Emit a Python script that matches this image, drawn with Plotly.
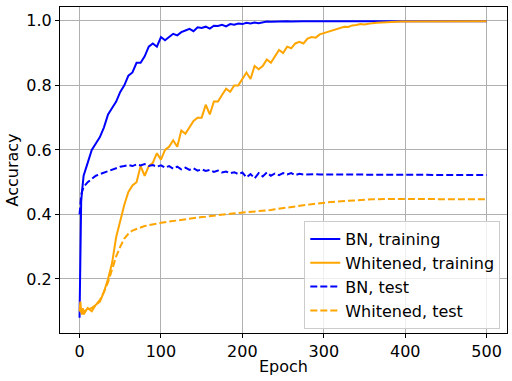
import plotly.graph_objects as go

epochs = [0, 1, 2, 3, 4] + list(range(5, 501, 5))

bn_train = [
    0.08, 0.38, 0.44, 0.47, 0.50,
    0.52, 0.56, 0.60, 0.62, 0.64, 0.67, 0.71, 0.73, 0.75, 0.78,
    0.80, 0.83, 0.84, 0.87, 0.87, 0.89, 0.92, 0.93, 0.92, 0.95,
    0.94, 0.95, 0.96, 0.955, 0.965, 0.97, 0.975, 0.968, 0.98, 0.978,
    0.982, 0.976, 0.985, 0.984, 0.988, 0.983, 0.99, 0.988, 0.992, 0.99,
    0.994, 0.992, 0.995, 0.993, 0.996, 0.998, 0.997, 0.998, 0.997, 0.998,
    0.999, 0.998, 0.999, 0.998, 0.999, 0.999, 0.998, 0.999, 0.999, 0.998,
    0.999, 0.999, 0.998, 0.999, 0.999, 0.999, 0.998, 0.999, 0.999, 0.999,
    0.999, 0.999, 0.999, 0.998, 0.999, 0.999, 0.999, 0.999, 0.999, 0.999,
    0.999, 0.999, 0.999, 0.999, 0.999, 0.999, 0.999, 0.999, 0.999, 0.999,
    0.999, 0.999, 0.999, 0.999, 0.999, 0.999, 0.999, 0.999, 0.999, 0.999,
]

wh_train = [
    0.10, 0.13, 0.10, 0.09, 0.11,
    0.09, 0.11, 0.10, 0.12, 0.13, 0.16, 0.20, 0.25, 0.33, 0.38,
    0.43, 0.47, 0.49, 0.50, 0.55, 0.52, 0.55, 0.56, 0.59, 0.57,
    0.60, 0.61, 0.63, 0.61, 0.66, 0.65, 0.67, 0.69, 0.70, 0.70,
    0.74, 0.71, 0.75, 0.75, 0.77, 0.79, 0.78, 0.80, 0.80, 0.82,
    0.84, 0.82, 0.86, 0.85, 0.86, 0.88, 0.87, 0.89, 0.91, 0.90,
    0.92, 0.915, 0.93, 0.935, 0.93, 0.945, 0.95, 0.948, 0.958, 0.962,
    0.966, 0.968, 0.974, 0.976, 0.982, 0.981, 0.986, 0.987, 0.99, 0.989,
    0.992, 0.993, 0.994, 0.995, 0.996, 0.996, 0.997, 0.997, 0.998, 0.998,
    0.998, 0.999, 0.998, 0.999, 0.998, 0.999, 0.999, 0.998, 0.999, 0.999,
    0.999, 0.998, 0.999, 0.999, 0.999, 0.999, 0.998, 0.999, 0.999, 0.999,
]

bn_test = [
    0.40, 0.44, 0.46, 0.47, 0.48,
    0.485, 0.50, 0.51, 0.52, 0.525, 0.53, 0.535, 0.54, 0.545, 0.548,
    0.55, 0.553, 0.55, 0.555, 0.552, 0.556, 0.55, 0.553, 0.548, 0.552,
    0.545, 0.55, 0.542, 0.548, 0.54, 0.545, 0.538, 0.543, 0.536, 0.54,
    0.535, 0.538, 0.532, 0.536, 0.53, 0.533, 0.528, 0.531, 0.525, 0.53,
    0.515, 0.525, 0.512, 0.528, 0.518, 0.53, 0.52, 0.527, 0.522, 0.528,
    0.524, 0.528, 0.522, 0.526, 0.524, 0.525, 0.524, 0.525, 0.524, 0.524,
    0.524, 0.524, 0.523, 0.524, 0.523, 0.523, 0.523, 0.523, 0.523, 0.523,
    0.523, 0.523, 0.522, 0.523, 0.522, 0.522, 0.522, 0.522, 0.522, 0.522,
    0.522, 0.522, 0.522, 0.522, 0.522, 0.522, 0.522, 0.522, 0.522, 0.522,
    0.522, 0.522, 0.522, 0.522, 0.522, 0.522, 0.522, 0.522, 0.522, 0.522,
]

wh_test = [
    0.10, 0.10, 0.10, 0.10, 0.10,
    0.10, 0.105, 0.11, 0.12, 0.135, 0.16, 0.19, 0.23, 0.27, 0.30,
    0.325, 0.34, 0.35, 0.355, 0.36, 0.364, 0.367, 0.37, 0.372, 0.374,
    0.376, 0.378, 0.380, 0.382, 0.384, 0.386, 0.388, 0.390, 0.391, 0.392,
    0.393, 0.395, 0.396, 0.398, 0.399, 0.401, 0.402, 0.403, 0.404, 0.405,
    0.406, 0.407, 0.409, 0.410, 0.411, 0.413, 0.414, 0.416, 0.418, 0.420,
    0.422, 0.424, 0.425, 0.427, 0.428, 0.430, 0.432, 0.433, 0.435, 0.436,
    0.437, 0.439, 0.440, 0.441, 0.442, 0.443, 0.444, 0.445, 0.445, 0.446,
    0.446, 0.447, 0.447, 0.448, 0.448, 0.448, 0.448, 0.448, 0.448, 0.448,
    0.448, 0.448, 0.448, 0.448, 0.448, 0.447, 0.447, 0.447, 0.447, 0.447,
    0.447, 0.447, 0.447, 0.447, 0.447, 0.447, 0.447, 0.447, 0.447, 0.447,
]

BLUE = "#0000ff"
ORANGE = "#ffa500"

fig = go.Figure()
fig.add_trace(go.Scatter(x=epochs, y=bn_train, mode="lines", name="BN, training",
                         line=dict(color=BLUE, width=2)))
fig.add_trace(go.Scatter(x=epochs, y=wh_train, mode="lines", name="Whitened, training",
                         line=dict(color=ORANGE, width=2)))
fig.add_trace(go.Scatter(x=epochs, y=bn_test, mode="lines", name="BN, test",
                         line=dict(color=BLUE, width=2, dash="7px,3px")))
fig.add_trace(go.Scatter(x=epochs, y=wh_test, mode="lines", name="Whitened, test",
                         line=dict(color=ORANGE, width=2, dash="7px,3px")))

axis_style = dict(
    showline=True, linecolor="black", linewidth=1, mirror=True,
    showgrid=True, gridcolor="#b0b0b0", gridwidth=1,
    ticks="outside", ticklen=4, tickcolor="black", automargin=False,
    zeroline=False, tickfont=dict(size=16, color="black"),
)

fig.update_xaxes(range=[-24, 525], tickvals=[0, 100, 200, 300, 400, 500],
                 title=dict(text="Epoch", font=dict(size=16, color="black"), standoff=0),
                 **axis_style)
fig.update_yaxes(range=[0.0326, 1.043], tickvals=[0.2, 0.4, 0.6, 0.8, 1.0],
                 tickformat=".1f",
                 title=dict(text="Accuracy", font=dict(size=16, color="black"), standoff=3),
                 **axis_style)

fig.update_layout(
    width=512, height=381,
    margin=dict(l=60, r=5, t=7, b=48),
    plot_bgcolor="white", paper_bgcolor="white",
    font=dict(family="DejaVu Sans", size=16, color="black"),
    legend=dict(x=0.985, y=0.012, xanchor="right", yanchor="bottom",
                bgcolor="rgba(255,255,255,0.8)", bordercolor="#cccccc", borderwidth=1,
                font=dict(size=16), tracegroupgap=0),
    showlegend=True,
)

fig.write_html("out.html", config={"displayModeBar": False})

# drop the browser's default page margin so the figure sits at the window corner
with open("out.html", encoding="utf-8") as f:
    html = f.read()
html = html.replace("<body>", '<body style="margin:0">', 1)
with open("out.html", "w", encoding="utf-8") as f:
    f.write(html)
